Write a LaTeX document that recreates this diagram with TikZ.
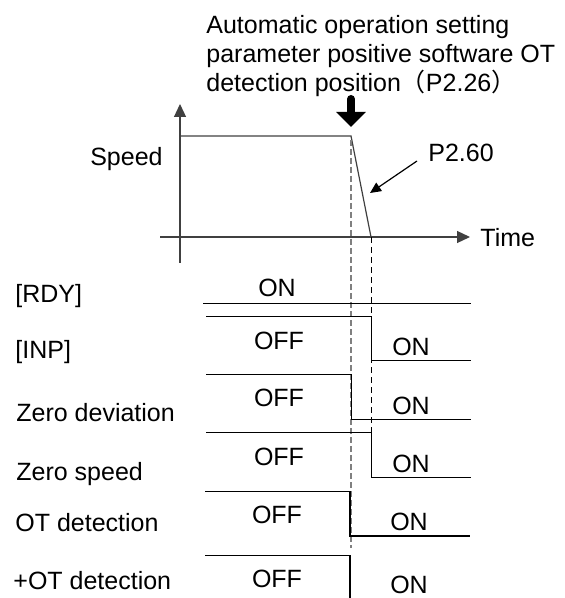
\documentclass[tikz,border=0pt]{standalone}
\usepackage{fontspec}
\setmainfont{Liberation Sans}
\newfontfamily\cjk{Noto Sans CJK SC}
\usetikzlibrary{arrows.meta}
\tikzset{
  axis/.style={line width=0.6pt,draw=black!75},
  sig/.style={line width=0.6pt},
  lbl/.style={anchor=base west,inner sep=0pt},
  st/.style={anchor=base,inner sep=0pt},
  >={Triangle[length=6.5pt,width=6pt]}
}
\begin{document}
\begin{tikzpicture}[x=0.5pt,y=-0.5pt,font=\fontsize{12.5}{14.6}\selectfont]
    \useasboundingbox (0,0) rectangle (565,598);
    % note and marker
    \node[anchor=north west,align=left,inner sep=0pt] (N) at (206,14.5) {Automatic operation setting\\parameter positive software OT\\detection position{\cjk （}P2.26{\cjk ）}};
    \coordinate (Ka) at (351,99);
    \coordinate (Kb) at (351,127);
    \draw[line width=4pt,line cap=round,-{Triangle[length=7.5pt,width=14.5pt]}] (Ka) to (Kb);
    % speed profile
    \coordinate (Y0) at (180,263);
    \coordinate (Y1) at (180,104);
    \coordinate (X0) at (160,237);
    \coordinate (X1) at (470,237);
    \coordinate (S0) at (180,136);
    \coordinate (S1) at (351,136);
    \coordinate (S2) at (371,237);
    \draw[axis,->] (Y0) to (Y1);
    \draw[axis,->] (X0) to (X1);
    \draw[axis] (S0) -- (S1) -- (S2);
    \node[anchor=base east,inner sep=0pt] (Spd) at (163,166) {Speed};
    \node[lbl] (Tm) at (480,246.5) {Time};
    \node[lbl] (P) at (428,161.5) {P2.60};
    \coordinate (Pa) at (417,161);
    \coordinate (Pb) at (370,193);
    \draw[sig,->,>={Triangle[length=5.5pt,width=5pt]}] (Pa) to (Pb);
    % guide lines
    \draw[gray,line width=0.8pt,dash pattern=on 3pt off 1.5pt] (351,140) to (351,548);
    \draw[line width=0.5pt,dash pattern=on 3pt off 2pt] (371.7,237) to (371.7,432.7);
    % signals
    \draw[sig] (203,303.3) -- (470.7,303.3);
    \draw[sig] (206,316.7) -- (371.7,316.7) -- (371.7,360.7) -- (470.7,360.7);
    \draw[sig] (206,374.7) -- (351.3,374.7) -- (351.3,419.3) -- (470.7,419.3);
    \draw[sig] (206,432.7) -- (371.7,432.7) -- (371.7,477.7) -- (470.7,477.7);
    \draw[sig] (205,491.3) -- (350,491.3) -- (350,536) -- (470,536);
    \draw[sig] (205,555.7) -- (350,555.7) -- (350,598);
    % signal names
    \node[lbl] (RDY) at (15,302) {[RDY]};
    \node[lbl] (INP) at (15,358) {[INP]};
    \node[lbl] (ZD) at (16,421.7) {Zero deviation};
    \node[lbl] (ZS) at (16,480) {Zero speed};
    \node[lbl] (OT) at (15,531) {OT detection};
    \node[lbl] (POT) at (13,589) {+OT detection};
    % states
    \node[st] (RDYon) at (277,296.7) {ON};
    \node[st] (INPoff) at (279,349) {OFF};
    \node[st] (ZDoff) at (279,406.7) {OFF};
    \node[st] (ZSoff) at (279,465) {OFF};
    \node[st] (OToff) at (277,523.3) {OFF};
    \node[st] (POToff) at (277,587) {OFF};
    \node[st] (INPon) at (411,355) {ON};
    \node[st] (ZDon) at (411,414) {ON};
    \node[st] (ZSon) at (411,472.3) {ON};
    \node[st] (OTon) at (409,530) {ON};
    \node[st] (POTon) at (409,593) {ON};
\end{tikzpicture}
\end{document}
